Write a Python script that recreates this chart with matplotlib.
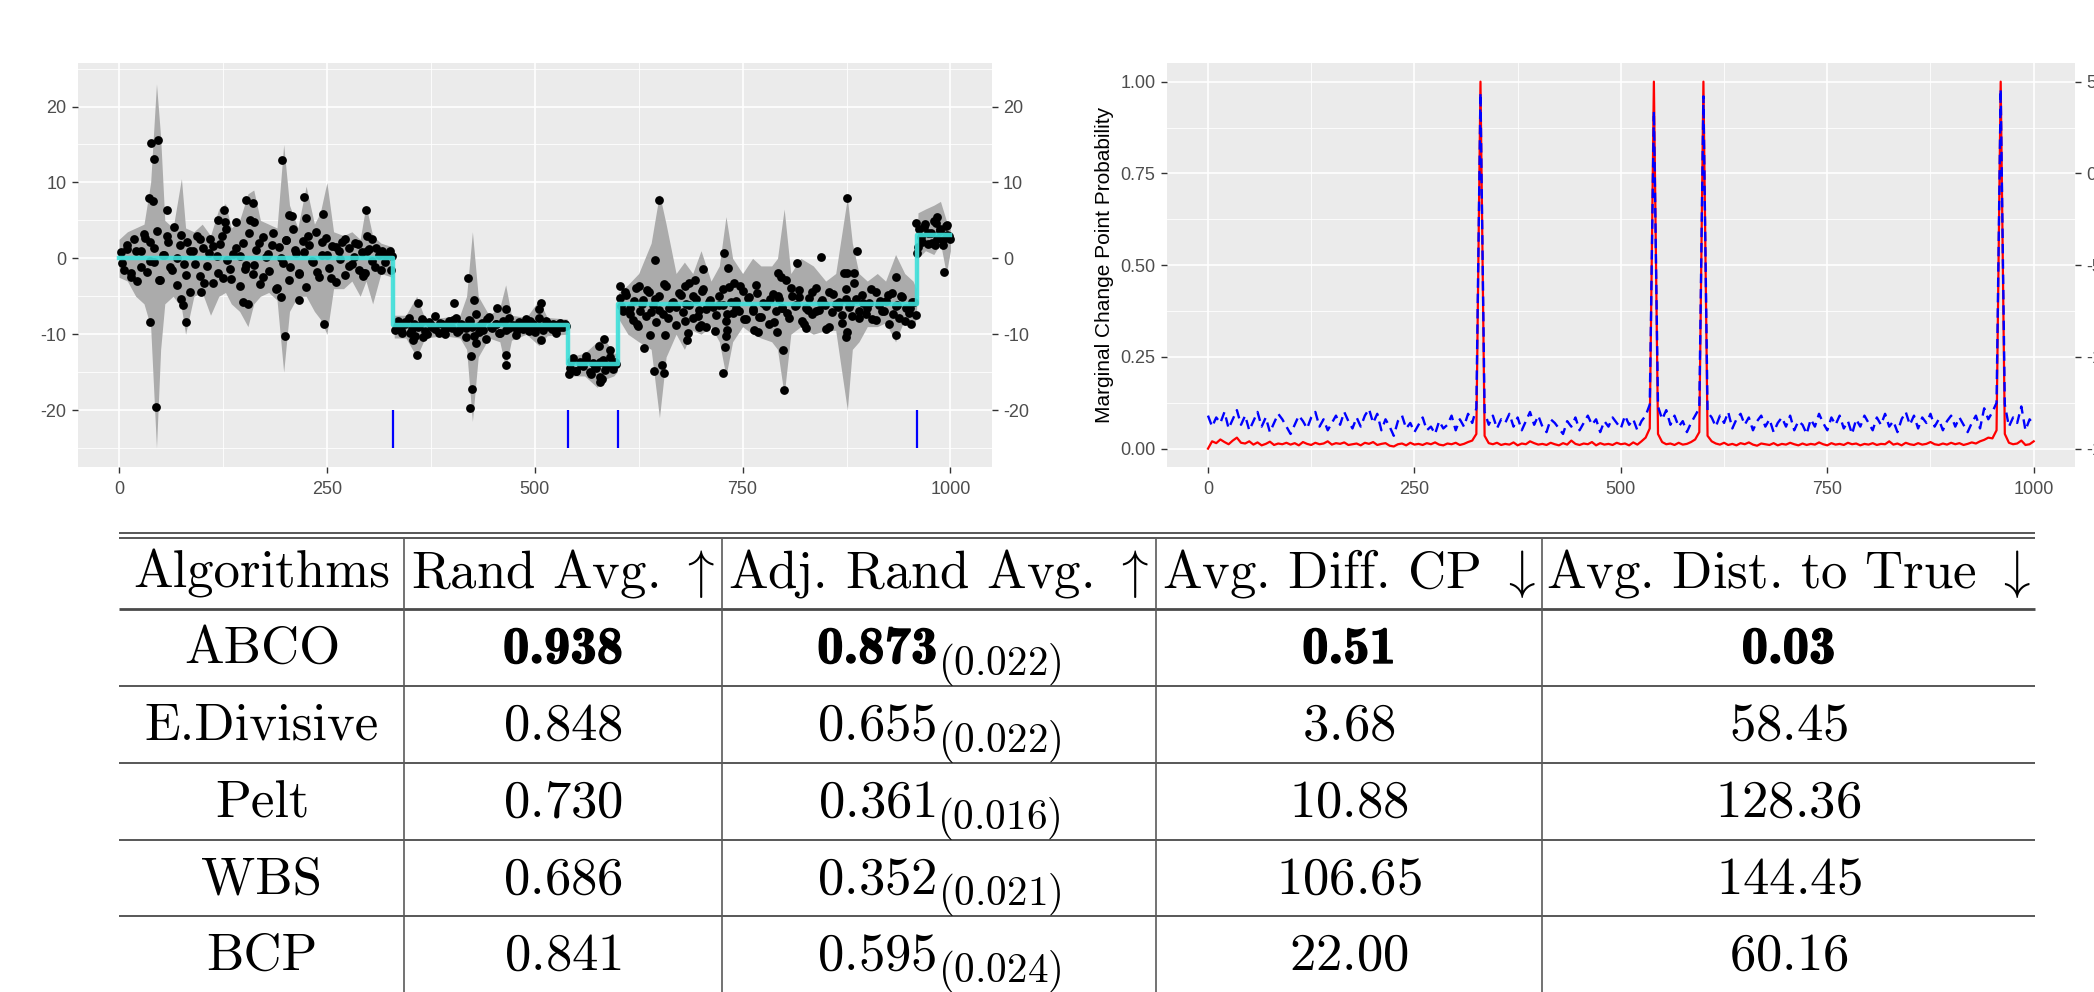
import numpy as np
import matplotlib.pyplot as plt
import matplotlib.patheffects as pe
from matplotlib.ticker import MultipleLocator, FixedLocator

plt.rcParams['font.family'] = ['Liberation Sans', 'DejaVu Sans']
plt.rcParams['mathtext.fontset'] = 'cm'

# ---------------- left panel: series with fitted segments ----------------
change_points = [0, 330, 540, 600, 960, 1000]
seg_means = [0.0, -8.8, -13.9, -6.0, 3.1]
detected_cp = [330, 540, 600, 960]

seg1 = [0.8, -1.5, 1.2, -2.0, 2.5, -3.0, 1.0, 3.2, -1.8, 2.1, -0.5, 3.6, -2.8, 0.4, 2.9,
        -1.2, 4.1, -3.5, 1.7, -0.8, 2.2, -4.4, 0.9, 3.0, -2.3, 1.4, -1.0, 2.6, -3.2, 0.3,
        1.9, -2.6, 3.8, -1.4, 0.6, 4.8, -3.6, 2.0, -0.9, 5.1, -2.1, 1.1, -3.4, 2.8, 0.2,
        -1.7, 3.3, -4.0, 1.5, -0.6, 2.4, -2.9, 3.9, 0.7, -1.9, 2.3, -3.8, 1.8, -0.4, 3.5,
        -2.4, 0.5, 2.7, -1.3, 1.6, -3.1, 0.9, 2.1, -2.2, 1.3, -0.7, 2.0, -1.6, 0.8, -2.0,
        1.2, 2.6, -1.1, 0.4, 1.0, -0.5, 0.6, 0.3]
seg1b = [-0.6, 1.8, -2.4, 0.9, -1.1, 2.7, -0.3, 1.4, -2.9, 0.5, 2.2, -1.6, 0.1, 3.1,
         -2.2, 1.0, -0.8, 2.5, -3.3, 0.7, 1.6, -1.9, 2.9, -0.2, -2.7, 1.3, 0.3, -1.4, 3.4,
         -0.9, 2.0, -2.5, 0.6, 1.7, -3.9, 0.0, 2.4, -1.2, 1.1, -2.1, 0.8, 3.0, -0.5, -1.8,
         2.1, 0.4, -2.6, 1.5, -0.1, 2.6, -1.0, 0.2, 1.9, -2.3, 0.9, -0.4, 1.4, -1.5, 0.5,
         0.9]
seg2 = [-9.5, -8.2, -9.9, -8.6, -7.8, -9.3, -10.2, -8.9, -8.0, -9.6, -8.4, -9.1, -7.6,
        -9.8, -8.7, -10.0, -8.3, -9.2, -7.9, -9.4, -8.8, -10.4, -8.1, -9.0, -7.3, -9.7,
        -8.5, -10.6, -7.7, -9.2, -8.6, -9.9, -8.2, -9.4, -7.9, -8.9, -10.1, -8.4, -9.3,
        -8.0, -9.6, -8.7, -9.0, -7.8, -9.5, -8.3, -9.1, -8.6, -9.8, -8.5, -9.0, -8.9]
seg2b = [-8.9, -9.4, -8.4, -9.8, -8.7, -9.1, -8.2, -10.0, -8.8, -9.3, -8.5, -9.6, -9.0,
         -8.1, -9.7, -8.6, -9.2, -8.3, -10.3, -8.9, -9.5, -8.0, -9.1, -8.7, -9.9, -8.4,
         -9.2, -8.8, -9.4, -8.6, -9.0, -8.3, -9.7, -8.9, -9.1, -8.5, -9.3, -8.8, -9.0,
         -8.7]
seg3 = [-14.5, -13.2, -14.8, -13.6, -14.2, -12.9, -15.0, -13.8, -14.4, -15.6, -13.4,
        -14.1, -13.0, -14.6, -13.9]
seg3b = [-13.5, -14.9, -14.0, -13.3, -15.2, -14.3, -13.7, -14.7, -14.1, -13.6]
seg4 = [-5.2, -7.0, -4.8, -6.5, -8.1, -3.9, -6.9, -5.5, -7.6, -4.4, -6.2, -8.4, -5.0,
        -7.3, -3.6, -6.6, -5.8, -8.8, -4.6, -7.1, -6.0, -3.2, -7.8, -5.3, -6.8, -4.1,
        -9.0, -5.7, -6.4, -7.5, -4.9, -6.1, -8.3, -3.8, -7.2, -5.6, -6.9, -4.3, -8.0,
        -5.1, -6.7, -3.5, -7.7, -5.9, -6.3, -8.6, -4.7, -7.0, -5.4, -6.6, -2.8, -7.9,
        -5.0, -6.2, -4.2, -8.2, -6.5, -5.2, -7.4, -3.9, -6.8, -5.5, -9.3, -4.5, -7.1,
        -6.0, -5.7, -8.5, -4.0, -6.4, -7.6, -5.3, -6.9, -4.8, -7.3, -5.9, -8.0, -4.4,
        -6.1, -7.0, -5.6, -8.7, -4.6, -6.3, -7.8, -5.1, -6.6, -7.2, -5.8, -7.5]
seg4b = [-6.3, -4.5, -7.4, -5.6, -8.9, -6.0, -4.2, -7.1, -5.3, -6.8, -3.4, -7.9, -5.9,
         -6.4, -4.8, -8.2, -6.1, -5.0, -7.6, -4.3, -6.7, -5.5, -9.6, -6.2, -4.0, -7.3,
         -5.8, -6.5, -3.7, -8.0, -5.2, -6.9, -4.6, -7.7, -6.0, -5.4, -8.4, -4.9, -6.6,
         -7.2, -3.9, -6.3, -5.1, -8.6, -6.8, -4.4, -7.0, -5.7, -6.1, -9.1, -4.7, -6.4,
         -7.5, -5.3, -6.0, -3.3, -7.8, -5.9, -6.6, -4.1, -8.1, -5.6, -6.9, -4.8, -7.4,
         -6.2, -5.0, -8.3, -6.5, -5.8]
seg5 = [3.8, 2.2, 4.5, 1.9, 3.4, 4.9, 2.6, 3.9, 1.7, 4.2, 3.0]
seg5b = [2.8, 4.1, 3.3, 2.0, 4.6, 3.6, 2.4, 3.1]
segments = [(seg1, seg1b), (seg2, seg2b), (seg3, seg3b), (seg4, seg4b), (seg5, seg5b)]

# the points that stand out from the bulk
out_x = [39, 47, 42, 36, 41, 58, 37, 45, 80, 196, 199, 223, 247, 245, 153, 161, 126, 119,
         127, 162, 205, 208, 225, 98, 75, 77, 149, 155, 195, 217, 297, 298, 294, 327,
         359, 358, 403, 420, 427, 423, 425, 422, 454, 465, 465, 466, 507, 505, 508, 366,
         353, 429,
         541, 583, 577, 591, 579, 581,
         650, 645, 702, 728, 733, 740, 815, 631, 644, 653, 655, 639, 657, 727, 729, 730,
         731, 683, 684, 799, 800, 791, 693, 681, 764, 769, 623, 792, 796, 603, 625, 700,
         697, 876, 888, 876, 884, 872, 844, 826, 874, 875, 934, 934, 952,
         958, 984, 996, 960, 961, 992, 1000, 982]
out_y = [15.2, 15.6, 13.1, 7.9, 7.6, 6.4, -8.4, -19.6, -8.4, 12.9, -10.3, 8.1, -8.6, 5.8,
         7.7, 7.3, 6.4, 5.1, 4.8, 4.8, 5.7, 5.6, 5.3, -4.4, -5.3, -6.2, -5.7, -6.0, -5.1,
         -5.5, 6.4, 2.9, -2.0, -1.5,
         -5.9, -12.8, -5.9, -2.6, -5.5, -12.9, -17.2, -19.7, -6.6, -12.7, -14.1, -6.7,
         -5.9, -6.7, -10.8, -10.4, -10.8, -11.2,
         -15.2, -10.6, -11.6, -12.1, -16.3, -15.9,
         7.7, -0.2, -1.4, 0.7, -1.3, -3.2, -0.6, -11.8, -14.8, -14.0, -15.1, -10.1, -10.1,
         -15.1, -11.7, -10.2, -9.5, -10.7, -9.8, -12.1, -17.4, -9.7, -2.9, -3.7, -9.5,
         -9.7, -8.6, -2.0, -2.4, -3.7, -3.7, -8.8, -9.0, 7.9, 0.9, -2.0, -2.0, -2.0, 0.2,
         -9.2, -10.4, -9.7, -10.1, -2.4, -8.6,
         4.7, 5.5, 4.4, 0.7, 1.5, -1.8, 2.6, 1.8]

# grey credible band
band_x = [0, 10, 20, 30, 38, 45, 50, 55, 65, 75, 80, 90, 100, 110, 120, 128, 135, 145,
          155, 162, 170, 180, 190, 198, 205, 215, 225, 235, 242, 250, 258, 270, 280, 290,
          297, 305, 315, 329,
          331, 345, 358, 368, 390, 410, 418, 425, 432, 445, 458, 465, 472, 490, 505, 515,
          539,
          541, 560, 575, 583, 595, 599,
          601, 612, 625, 640, 650, 658, 670, 680, 690, 700, 712, 722, 730, 738, 750, 762,
          772, 785, 792, 800, 808, 820, 835, 850, 862, 876, 882, 890, 900, 912, 922, 934,
          945, 955, 959,
          961, 970, 980, 988, 995, 1000]
band_hi = [2.5, 3.5, 4.0, 4.5, 10, 23, 16, 5, 4, 10.5, 4, 3.5, 4.5, 3.0, 6.5, 7.2, 4, 5,
           8.5, 9, 5, 4.5, 4, 15, 7, 4, 9.5, 4.5, 6, 10, 3.5, 3, 3.5, 2.5, 7, 3, 2, 1.5,
           -7.5, -7.5, -5.0, -8, -7.8, -7.5, -5, 3.5, -5, -7.5, -6.5, -3.5, -7.5, -7.8,
           -5.5, -7.8, -8,
           -13, -12.5, -11, -10.5, -12.5, -12.5,
           -4.5, -3.5, -2, 2, 8.5, 4.5, -2, -0.5, -2, 1, -3, -1, 5.5, 0, -2, 0, -1, -1, 0,
           6.5, -2, 0, -1, -3, -2, 8, 2, -2, -3, -2, -3, 0.5, -2, -3, -4,
           6, 6.5, 7, 7.5, 5, 4]
band_lo = [-2.5, -3.0, -5.0, -6.0, -9, -25, -12, -6, -5, -6.5, -10, -5, -4.5, -7.5, -5,
           -4.5, -6, -7, -9, -6, -5, -4.5, -5.5, -15, -7, -5, -5, -7, -8, -10, -4, -4, -3,
           -5, -3, -6, -2, -2.5,
           -10.5, -10.5, -13.0, -10.5, -10.2, -10.5, -12, -21.5, -13, -10.5, -11, -14.5,
           -10.8, -10.0, -11.5, -10.2, -10,
           -15.5, -15.5, -17, -16, -15.5, -15,
           -8, -10, -11, -12, -21, -13, -10, -12, -9.5, -10, -9, -11, -15.5, -11, -9, -10,
           -10.5, -11, -12, -18, -10, -9, -10, -9.5, -9.5, -20, -12, -11, -9, -9, -8.5,
           -11, -8, -9, -8,
           0, 1, 0.5, 2, -2, 1]

# ---------------- right panel: marginal change point probability ----------------
prob_t = np.arange(0, 1001, 5)
prob_red = [0.00, 0.02, 0.015, 0.025, 0.018, 0.012, 0.022, 0.03, 0.016, 0.014,
            0.02, 0.011, 0.017, 0.009, 0.013, 0.019, 0.01, 0.014, 0.012, 0.016,
            0.011, 0.015, 0.009, 0.018, 0.013, 0.01, 0.016, 0.012, 0.014, 0.02,
            0.011, 0.015, 0.013, 0.017, 0.01, 0.012, 0.014, 0.009, 0.016, 0.013,
            0.018, 0.01, 0.013, 0.015, 0.008, 0.006, 0.012, 0.014, 0.009, 0.016,
            0.011, 0.013, 0.01, 0.015, 0.012, 0.017, 0.011, 0.009, 0.014, 0.012,
            0.016, 0.01, 0.013, 0.018, 0.022, 0.04, 1.0, 0.035, 0.015, 0.012,
            0.016, 0.01, 0.013, 0.011, 0.017, 0.009, 0.014, 0.012, 0.02, 0.015,
            0.011, 0.013, 0.01, 0.016, 0.012, 0.009, 0.015, 0.011, 0.022, 0.013,
            0.01, 0.014, 0.012, 0.018, 0.009, 0.015, 0.011, 0.013, 0.01, 0.016,
            0.012, 0.014, 0.009, 0.017, 0.011, 0.02, 0.03, 0.055, 1.0, 0.04,
            0.018, 0.012, 0.014, 0.01, 0.016, 0.011, 0.013, 0.018, 0.025, 0.045,
            1.0, 0.035, 0.02, 0.014, 0.011, 0.016, 0.01, 0.013, 0.009, 0.015,
            0.012, 0.017, 0.011, 0.008, 0.014, 0.012, 0.01, 0.015, 0.009, 0.013,
            0.011, 0.016, 0.012, 0.009, 0.014, 0.01, 0.013, 0.011, 0.017, 0.012,
            0.009, 0.015, 0.011, 0.013, 0.01, 0.016, 0.012, 0.014, 0.009, 0.013,
            0.011, 0.015, 0.01, 0.013, 0.012, 0.02, 0.011, 0.014, 0.009, 0.016,
            0.012, 0.01, 0.015, 0.011, 0.013, 0.018, 0.012, 0.01, 0.014, 0.011,
            0.016, 0.012, 0.015, 0.01, 0.013, 0.017, 0.014, 0.02, 0.024, 0.03,
            0.028, 0.05, 1.0, 0.04, 0.016, 0.012, 0.014, 0.022, 0.01, 0.012,
            0.02]
prob_blue = [0.09, 0.06, 0.085, 0.07, 0.1, 0.055, 0.08, 0.105, 0.065, 0.09,
             0.05, 0.075, 0.1, 0.06, 0.085, 0.045, 0.07, 0.095, 0.08, 0.06,
             0.04, 0.065, 0.09, 0.075, 0.055, 0.085, 0.1, 0.06, 0.08, 0.05,
             0.07, 0.09, 0.065, 0.1, 0.075, 0.055, 0.085, 0.06, 0.09, 0.108,
             0.07, 0.095, 0.05, 0.08, 0.06, 0.035, 0.075, 0.09, 0.055, 0.07,
             0.045, 0.065, 0.085, 0.05, 0.06, 0.04, 0.075, 0.055, 0.065, 0.09,
             0.05, 0.08, 0.06, 0.095, 0.07, 0.11, 0.97, 0.1, 0.065, 0.09,
             0.055, 0.08, 0.07, 0.095, 0.06, 0.085, 0.05, 0.075, 0.1, 0.065,
             0.09, 0.06, 0.045, 0.08, 0.07, 0.055, 0.04, 0.075, 0.06, 0.085,
             0.05, 0.07, 0.09, 0.065, 0.08, 0.045, 0.075, 0.06, 0.085, 0.07,
             0.055, 0.09, 0.065, 0.08, 0.05, 0.075, 0.09, 0.12, 0.92, 0.115,
             0.08, 0.105, 0.065, 0.09, 0.06, 0.075, 0.045, 0.07, 0.09, 0.11,
             0.96, 0.1, 0.085, 0.06, 0.09, 0.07, 0.1, 0.055, 0.08, 0.095,
             0.065, 0.085, 0.05, 0.075, 0.09, 0.06, 0.08, 0.045, 0.07, 0.085,
             0.06, 0.09, 0.05, 0.075, 0.065, 0.04, 0.08, 0.06, 0.095, 0.07,
             0.05, 0.085, 0.065, 0.09, 0.055, 0.075, 0.04, 0.08, 0.06, 0.09,
             0.07, 0.05, 0.085, 0.065, 0.095, 0.06, 0.075, 0.045, 0.08, 0.1,
             0.065, 0.09, 0.055, 0.085, 0.07, 0.095, 0.06, 0.08, 0.05, 0.075,
             0.09, 0.06, 0.085, 0.065, 0.045, 0.07, 0.09, 0.055, 0.11, 0.08,
             0.1, 0.125, 0.98, 0.12, 0.06, 0.085, 0.07, 0.115, 0.05, 0.08,
             0.065]

# ---------------- table ----------------
algos = ['ABCO', 'E.Divisive', 'Pelt', 'WBS', 'BCP']
rand_avg = ['0.938', '0.848', '0.730', '0.686', '0.841']
adj_rand = ['0.873', '0.655', '0.361', '0.352', '0.595']
adj_rand_sd = ['0.022', '0.022', '0.016', '0.021', '0.024']
diff_cp = ['0.51', '3.68', '10.88', '106.65', '22.00']
dist_true = ['0.03', '58.45', '128.36', '144.45', '60.16']
headers = ['Algorithms', r'Rand Avg. $\uparrow$', r'Adj. Rand Avg. $\uparrow$',
           r'Avg. Diff. CP $\downarrow$', r'Avg. Dist. to True $\downarrow$']

W, H = 2094, 992
fig = plt.figure(figsize=(W / 100, H / 100), dpi=100)

tick_kw = dict(length=4, width=1.0, color='#333333', labelsize=13,
               labelcolor='#4D4D4D')


def gg_style(ax):
    ax.set_facecolor('#EBEBEB')
    for s in ax.spines.values():
        s.set_visible(False)
    ax.grid(which='major', color='white', lw=1.2)
    ax.grid(which='minor', color='white', lw=0.6)
    ax.set_axisbelow(True)
    ax.tick_params(which='major', pad=4, **tick_kw)
    ax.tick_params(axis='x', which='major', pad=6)
    ax.tick_params(which='minor', length=0)


# left panel
ax1 = fig.add_axes([77.5 / W, 1 - 467 / H, 914.5 / W, 403.7 / H])
gg_style(ax1)
ax1.fill_between(band_x, band_lo, band_hi, color='#ABABAB', lw=0, zorder=1)
for i, (sa, sb) in enumerate(segments):
    a, b = change_points[i], change_points[i + 1]
    ax1.scatter(np.linspace(a + 2, b - 2, len(sa)), sa, s=40, color='black', lw=0, zorder=2)
    ax1.scatter(np.linspace(a + 4, b - 4, len(sb)), sb, s=40, color='black', lw=0, zorder=2)
ax1.scatter(out_x, out_y, s=40, color='black', lw=0, zorder=2)
ax1.step(change_points, seg_means + [seg_means[-1]], where='post',
         color='#3EE0DA', lw=3.2, alpha=0.9, zorder=3)
ax1.vlines(detected_cp, -25, -20, color='#0000FF', lw=1.6, zorder=3)
ax1.set_xlim(-50, 1050)
ax1.set_ylim(-27.5, 25.7)
ax1.xaxis.set_major_locator(MultipleLocator(250))
ax1.xaxis.set_minor_locator(MultipleLocator(125))
ax1.yaxis.set_major_locator(FixedLocator([-20, -10, 0, 10, 20]))
ax1.yaxis.set_minor_locator(FixedLocator([-25, -15, -5, 5, 15, 25]))
ax1.set_yticklabels(['-20', '-10', '0', '10', '20'])
ax1r = ax1.twinx()
ax1r.set_ylim(ax1.get_ylim())
for s in ax1r.spines.values():
    s.set_visible(False)
ax1r.set_yticks([-20, -10, 0, 10, 20])
ax1r.set_yticklabels(['-20', '-10', '0', '10', '20'])
ax1r.tick_params(pad=4, **tick_kw)

# right panel
ax2 = fig.add_axes([1166.7 / W, 1 - 467 / H, 908.3 / W, 403.7 / H])
gg_style(ax2)
ax2.plot(prob_t, prob_red, color='#FF0000', lw=1.6, zorder=2)
ax2.plot(prob_t, prob_blue, color='#0000FF', lw=1.7, ls=(0, (4, 2.5)), zorder=3)
ax2.set_xlim(-50, 1050)
ax2.set_ylim(-0.05, 1.05)
ax2.xaxis.set_major_locator(MultipleLocator(250))
ax2.xaxis.set_minor_locator(MultipleLocator(125))
ax2.yaxis.set_major_locator(MultipleLocator(0.25))
ax2.yaxis.set_minor_locator(MultipleLocator(0.125))
ax2.yaxis.set_major_formatter(lambda v, p: f'{v:.2f}')
ax2.set_ylabel('Marginal Change Point Probability', fontsize=15, color='black')
ax2.yaxis.set_label_coords(-0.058, 0.5)
ax2r = ax2.twinx()
ax2r.set_ylim(-16, 6)
for s in ax2r.spines.values():
    s.set_visible(False)
ax2r.set_yticks([-15, -10, -5, 0, 5])
ax2r.set_yticklabels(['-15', '-10', '-5', '0', '5'])
ax2r.tick_params(pad=4, **tick_kw)

# table drawn in pixel space
tb = fig.add_axes([0, 0, 1, 1], zorder=-1)
tb.set_xlim(0, W)
tb.set_ylim(H, 0)
tb.axis('off')

x_left, x_right = 119, 2035
col_edges = [x_left, 404, 722, 1156, 1542, x_right]
col_mid = [(col_edges[i] + col_edges[i + 1]) / 2 for i in range(5)]
col_mid[0] = 262
row_rules = [686, 763, 839.5, 916]
rule_col = '#4A4A4A'

tb.hlines([533, 538], x_left, x_right, color=rule_col, lw=1.3)
tb.hlines(608.5, x_left, x_right, color=rule_col, lw=2.0)
tb.hlines(row_rules, x_left, x_right, color=rule_col, lw=1.3)
tb.vlines(col_edges[1:5], 538, H, color='#5A5A5A', lw=1.2)

fs = 38
sub_fs = fs * 0.78
sub_drop = 12
cm_kw = dict(ha='center', va='baseline', fontsize=fs, fontfamily='cmr10')
bold = [pe.withStroke(linewidth=1.0, foreground='black')]

for j, h in enumerate(headers):
    tb.text(col_mid[j], 587, h, **cm_kw)

baselines = [663, 740, 817, 893.5, 970]
pairs = []
for i, name in enumerate(algos):
    y = baselines[i]
    tb.text(col_mid[0], y, name, **cm_kw)
    if i == 0:
        for j, v in [(1, rand_avg[i]), (3, diff_cp[i]), (4, dist_true[i])]:
            tb.text(col_mid[j], y, v, ha='center', va='baseline', fontsize=fs,
                    fontfamily='cmb10', path_effects=bold)
        main = tb.text(0, y, adj_rand[i], ha='left', va='baseline', fontsize=fs,
                       fontfamily='cmb10', path_effects=bold)
    else:
        tb.text(col_mid[1], y, r'$%s$' % rand_avg[i], ha='center', va='baseline', fontsize=fs)
        tb.text(col_mid[3], y, r'$%s$' % diff_cp[i], ha='center', va='baseline', fontsize=fs)
        tb.text(col_mid[4], y, r'$%s$' % dist_true[i], ha='center', va='baseline', fontsize=fs)
        main = tb.text(0, y, r'$%s$' % adj_rand[i], ha='left', va='baseline', fontsize=fs)
    sub = tb.text(0, y + sub_drop, r'$(%s)$' % adj_rand_sd[i], ha='left', va='baseline',
                  fontsize=sub_fs)
    pairs.append((main, sub, y))

# place value + subscript as one centred group
fig.canvas.draw()
for main, sub, y in pairs:
    wm = main.get_window_extent().width
    ws = sub.get_window_extent().width
    x0 = col_mid[2] - (wm + ws) / 2
    main.set_position((x0, y))
    sub.set_position((x0 + wm + 1, y + sub_drop))

fig.savefig('out.png', dpi=100)
